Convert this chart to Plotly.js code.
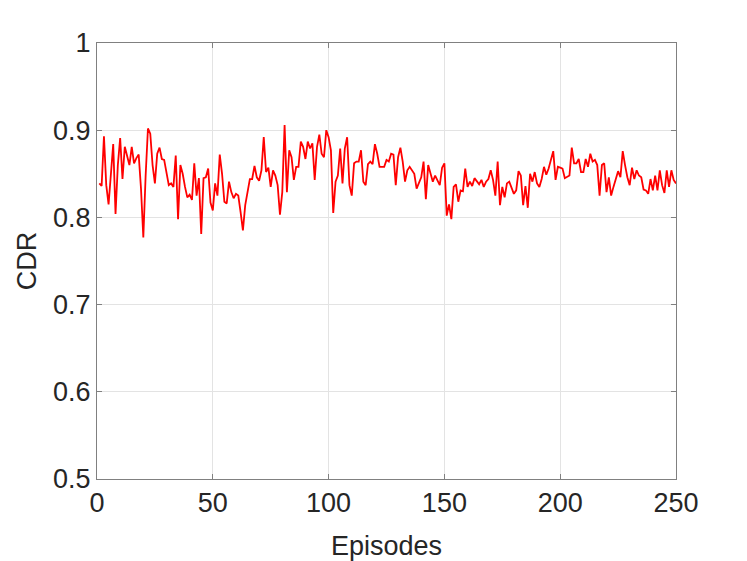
<!DOCTYPE html>
<html>
<head>
<meta charset="utf-8">
<script src="https://cdn.plot.ly/plotly-3.0.1.min.js"></script>
<style>
  html, body { margin: 0; padding: 0; background: #fff; }
  #chart { width: 747px; height: 561px; }
</style>
</head>
<body>
<div id="chart"></div>
<script>
const cdr = [
  0.839, 0.836, 0.893, 0.837, 0.815, 0.848, 0.884, 0.804, 0.860, 0.891,
  0.844, 0.881, 0.869, 0.860, 0.881, 0.862, 0.868, 0.872, 0.833, 0.777,
  0.848, 0.902, 0.896, 0.860, 0.839, 0.873, 0.880, 0.867, 0.866, 0.850,
  0.837, 0.839, 0.835, 0.871, 0.798, 0.860, 0.850, 0.835, 0.823, 0.826,
  0.820, 0.862, 0.825, 0.845, 0.781, 0.845, 0.846, 0.856, 0.817, 0.808,
  0.839, 0.825, 0.872, 0.850, 0.818, 0.816, 0.841, 0.829, 0.822, 0.827,
  0.825, 0.806, 0.785, 0.814, 0.831, 0.844, 0.844, 0.859, 0.846, 0.842,
  0.854, 0.892, 0.852, 0.857, 0.835, 0.854, 0.848, 0.837, 0.803, 0.829,
  0.906, 0.829, 0.877, 0.869, 0.843, 0.858, 0.858, 0.887, 0.881, 0.867,
  0.887, 0.879, 0.885, 0.843, 0.881, 0.895, 0.873, 0.869, 0.900, 0.892,
  0.877, 0.805, 0.841, 0.848, 0.879, 0.839, 0.879, 0.892, 0.837, 0.825,
  0.862, 0.864, 0.864, 0.877, 0.841, 0.837, 0.861, 0.864, 0.861, 0.884,
  0.873, 0.858, 0.858, 0.858, 0.866, 0.864, 0.873, 0.872, 0.837, 0.869,
  0.880, 0.864, 0.841, 0.854, 0.858, 0.854, 0.850, 0.833, 0.839, 0.846,
  0.864, 0.821, 0.860, 0.850, 0.841, 0.848, 0.843, 0.837, 0.857, 0.862,
  0.802, 0.815, 0.798, 0.835, 0.838, 0.818, 0.831, 0.830, 0.856, 0.835,
  0.841, 0.836, 0.845, 0.842, 0.838, 0.843, 0.835, 0.841, 0.844, 0.854,
  0.843, 0.825, 0.864, 0.814, 0.835, 0.823, 0.839, 0.841, 0.835, 0.827,
  0.831, 0.853, 0.848, 0.814, 0.836, 0.811, 0.850, 0.841, 0.852, 0.839,
  0.835, 0.844, 0.858, 0.849, 0.856, 0.866, 0.876, 0.843, 0.858, 0.857,
  0.856, 0.845, 0.847, 0.848, 0.880, 0.862, 0.862, 0.867, 0.852, 0.852,
  0.867, 0.858, 0.873, 0.864, 0.866, 0.860, 0.825, 0.860, 0.862, 0.829,
  0.846, 0.825, 0.835, 0.844, 0.853, 0.846, 0.876, 0.860, 0.846, 0.837,
  0.857, 0.844, 0.854, 0.848, 0.846, 0.832, 0.831, 0.827, 0.844, 0.831,
  0.848, 0.831, 0.854, 0.837, 0.828, 0.854, 0.835, 0.854, 0.843, 0.839
];
const episodes = cdr.map((_, i) => i + 1);

const xTicks = [0, 50, 100, 150, 200, 250];
const yTicks = [0.5, 0.6, 0.7, 0.8, 0.9, 1];
const yTickText = ['0.5', '0.6', '0.7', '0.8', '0.9', '1'];

const trace = {
  x: episodes,
  y: cdr,
  type: 'scatter',
  mode: 'lines',
  line: { color: '#ff0000', width: 1.8 },
  hoverinfo: 'skip'
};

const axisStyle = {
  showline: true,
  mirror: 'ticks',
  linecolor: '#808080',
  linewidth: 1,
  ticks: 'inside',
  ticklen: 5,
  tickcolor: '#808080',
  showgrid: true,
  gridcolor: '#e3e3e3',
  gridwidth: 1,
  zeroline: false,
  tickfont: { size: 27, color: '#262626' }
};

const layout = {
  width: 747,
  height: 561,
  margin: { l: 97, r: 71, t: 43, b: 82 },
  paper_bgcolor: '#ffffff',
  plot_bgcolor: '#ffffff',
  font: { family: '"Liberation Sans", Arial, sans-serif', color: '#262626' },
  showlegend: false,
  xaxis: Object.assign({}, axisStyle, {
    range: [0, 250],
    tickvals: xTicks,
    ticktext: xTicks.map(String),
    title: { text: 'Episodes', font: { size: 27, color: '#262626' }, standoff: 18 }
  }),
  yaxis: Object.assign({}, axisStyle, {
    range: [0.5, 1],
    tickvals: yTicks,
    ticktext: yTickText,
    title: { text: 'CDR', font: { size: 27, color: '#262626' }, standoff: 8 }
  })
};

Plotly.newPlot('chart', [trace], layout, { displayModeBar: false, staticPlot: true });
</script>
</body>
</html>
